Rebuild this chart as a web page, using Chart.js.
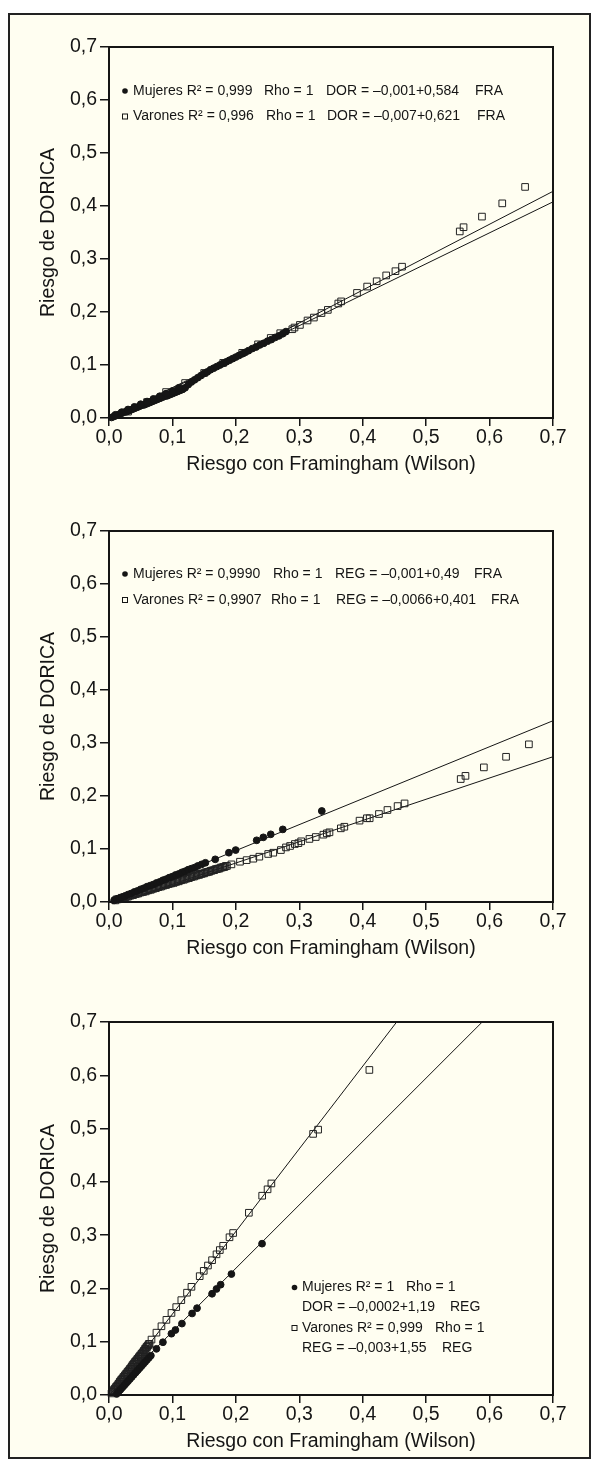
<!DOCTYPE html>
<html>
<head>
<meta charset="utf-8">
<script src="https://cdn.jsdelivr.net/npm/chart.js@4/dist/chart.umd.min.js"></script>
<style>
  html, body { margin: 0; padding: 0; background: #fff; }
  #page { position: relative; width: 598px; height: 1471px; }
  #frame { position: absolute; left: 8px; top: 13px; width: 583px; height: 1446px; box-sizing: border-box;
           border: 2px solid #222; background: #fffef1; }
  canvas { position: absolute; left: 0; }
</style>
</head>
<body>
<div id="page">
  <div id="frame"></div>
  <canvas id="c1" width="598" height="478" style="top:0px"></canvas>
  <canvas id="c2" width="598" height="478" style="top:484px"></canvas>
  <canvas id="c3" width="598" height="480" style="top:975px"></canvas>
</div>
<script>
// axis text
const tickLabels = ["0,0", "0,1", "0,2", "0,3", "0,4", "0,5", "0,6", "0,7"];
const xTitle = "Riesgo con Framingham (Wilson)";
const yTitle = "Riesgo de DORICA";

// Chart 1 (DOR vs FRA)
const c1MujeresX = [0.004,0.008,0.012,0.016,0.020,0.024,0.028,0.032,0.036,0.040,0.044,0.048,0.052,0.056,0.060,0.064,0.068,0.072,0.076,0.080,0.084,0.088,0.092,0.096,0.100,0.104,0.108,0.112,0.116,0.120,
  0.010,0.020,0.030,0.040,0.050,0.060,0.070,0.080,0.090,0.100,0.110,
  0.125,0.130,0.135,0.140,0.145,0.150,0.155,0.160,0.165,0.170,0.175,0.180,0.185,0.190,0.195,0.200,0.205,0.210,0.215,0.220,0.226,0.232,0.238,0.244,0.250,0.256,0.262,0.268,0.274,0.279];
const c1MujeresY = [0.001,0.003,0.005,0.007,0.009,0.011,0.012,0.014,0.016,0.018,0.020,0.022,0.024,0.025,0.027,0.029,0.031,0.033,0.035,0.037,0.039,0.041,0.042,0.044,0.046,0.048,0.050,0.052,0.054,0.057,
  0.006,0.011,0.016,0.021,0.026,0.031,0.036,0.041,0.046,0.051,0.057,
  0.063,0.068,0.072,0.076,0.080,0.084,0.087,0.091,0.094,0.097,0.100,0.103,0.106,0.109,0.112,0.115,0.118,0.121,0.124,0.127,0.131,0.134,0.138,0.141,0.145,0.148,0.152,0.155,0.159,0.163];
const c1VaronesX = [0.030,0.060,0.090,0.120,0.150,0.180,0.210,0.235,0.255,0.270,
  0.289,0.2925,0.301,0.313,0.323,0.335,0.345,0.3615,0.366,0.391,0.407,0.422,0.437,0.4516,0.462,
  0.553,0.559,0.588,0.620,0.656];
const c1VaronesY = [0.012,0.030,0.049,0.066,0.085,0.104,0.123,0.139,0.151,0.160,
  0.1675,0.1707,0.1756,0.184,0.1895,0.198,0.204,0.216,0.220,0.236,0.248,0.258,0.269,0.277,0.2855,
  0.352,0.360,0.380,0.405,0.436];
const c1FitMujeres = [-0.001, 0.584];
const c1FitVarones = [-0.007, 0.621];
const c1Notes = [["Mujeres R² = 0,999", "Rho = 1", "DOR = –0,001+0,584", "FRA"],
                 ["Varones R² = 0,996", "Rho = 1", "DOR = –0,007+0,621", "FRA"]];

// Chart 2 (REG vs FRA)
const c2MujeresX = [0.008,0.012,0.016,0.020,0.025,0.030,0.035,0.040,0.045,0.050,0.055,0.060,0.065,0.070,0.075,0.080,0.085,0.090,0.095,0.100,0.105,0.110,0.115,0.120,0.125,0.130,0.135,0.140,0.146,0.152,
  0.1675,0.189,0.1997,0.2328,0.2433,0.255,0.274,0.3355];
const c2MujeresY = [0.003,0.005,0.007,0.009,0.011,0.014,0.016,0.019,0.021,0.024,0.026,0.029,0.031,0.033,0.036,0.038,0.041,0.043,0.046,0.048,0.051,0.053,0.056,0.058,0.061,0.063,0.065,0.068,0.071,0.074,
  0.0805,0.093,0.098,0.1164,0.122,0.1277,0.137,0.1717];
const c2VaronesX = [0.010,0.014,0.018,0.022,0.026,0.030,0.034,0.038,0.042,0.046,0.050,0.054,0.058,0.062,0.066,0.070,0.074,0.078,0.082,0.086,0.090,0.094,0.098,0.102,0.106,0.110,0.114,0.118,0.122,0.126,0.130,0.134,0.138,0.142,0.146,0.150,0.154,0.158,0.162,0.166,0.170,0.174,0.178,0.182,0.186,
  0.012,0.016,0.020,0.024,0.028,0.032,0.036,0.040,0.044,0.048,0.052,0.056,0.060,0.064,0.068,0.072,0.076,0.080,0.084,0.088,0.092,0.096,0.100,0.104,0.108,0.112,0.116,0.120,0.124,0.128,0.132,0.136,0.140,0.144,0.148,0.152,0.156,0.160,0.164,0.168,0.172,0.176,0.180,0.184,
  0.193,0.2065,0.217,0.2275,0.237,0.251,0.259,0.271,0.279,0.2855,0.293,0.2986,0.303,0.316,0.326,0.338,0.3434,0.3476,0.3655,0.371,0.395,0.4066,0.411,0.4256,0.439,0.455,0.466,0.5545,0.562,0.591,0.626,0.662];
const c2VaronesY = [0.003,0.005,0.006,0.007,0.009,0.010,0.012,0.013,0.015,0.016,0.018,0.019,0.020,0.022,0.023,0.025,0.026,0.028,0.029,0.031,0.032,0.034,0.035,0.036,0.038,0.039,0.041,0.042,0.044,0.045,0.047,0.048,0.050,0.051,0.053,0.054,0.056,0.057,0.059,0.060,0.062,0.063,0.065,0.066,0.068,
  0.005,0.006,0.008,0.009,0.011,0.012,0.014,0.015,0.016,0.018,0.019,0.021,0.022,0.024,0.025,0.027,0.028,0.030,0.031,0.033,0.034,0.035,0.037,0.038,0.040,0.041,0.043,0.044,0.046,0.047,0.049,0.050,0.052,0.053,0.054,0.056,0.057,0.059,0.060,0.062,0.063,0.065,0.066,0.068,
  0.071,0.076,0.079,0.0817,0.0855,0.0906,0.093,0.098,0.103,0.1057,0.1094,0.111,0.1145,0.119,0.1226,0.127,0.1296,0.1315,0.139,0.142,0.1535,0.158,0.158,0.166,0.1736,0.181,0.186,0.232,0.238,0.254,0.274,0.2975];
const c2FitMujeres = [-0.001, 0.49];
const c2FitVarones = [-0.0066, 0.401];
const c2Notes = [["Mujeres R² = 0,9990", "Rho = 1", "REG = –0,001+0,49", "FRA"],
                 ["Varones R² = 0,9907", "Rho = 1", "REG = –0,0066+0,401", "FRA"]];

// Chart 3 (DOR vs REG)
const c3MujeresX = [0.012,0.015,0.018,0.021,0.024,0.027,0.030,0.033,0.036,0.039,0.042,0.045,0.048,0.051,0.054,0.057,0.060,0.063,0.066,
  0.0748,0.085,0.0984,0.1047,0.115,0.131,0.1388,0.1625,0.1695,0.176,0.193,0.2413];
const c3MujeresY = [0.002,0.006,0.010,0.014,0.018,0.022,0.026,0.030,0.034,0.038,0.042,0.046,0.050,0.054,0.058,0.062,0.066,0.070,0.074,
  0.0866,0.099,0.115,0.122,0.134,0.153,0.163,0.190,0.199,0.207,0.227,0.284];
const c3VaronesX = [0.004,0.006,0.008,0.010,0.012,0.014,0.016,0.018,0.020,0.022,0.024,0.026,0.028,0.030,0.032,0.034,0.036,0.038,0.040,0.042,0.044,0.046,0.048,0.050,0.052,0.054,0.056,0.058,0.060,0.062,0.064,
  0.005,0.007,0.009,0.011,0.013,0.015,0.017,0.019,0.021,0.023,0.025,0.027,0.029,0.031,0.033,0.035,0.037,0.039,0.041,0.043,0.045,0.047,0.049,0.051,0.053,0.055,0.057,0.059,0.061,0.063,
  0.067,0.0748,0.0827,0.0905,0.0985,0.106,0.114,0.123,0.130,0.143,0.1494,0.156,0.1625,0.1695,0.1747,0.180,0.190,0.1957,0.2205,0.2415,0.250,0.256,0.3218,0.3297,0.4105];
const c3VaronesY = [0.003,0.006,0.009,0.012,0.015,0.018,0.022,0.025,0.028,0.031,0.034,0.037,0.040,0.043,0.046,0.049,0.053,0.056,0.059,0.062,0.065,0.068,0.071,0.074,0.077,0.080,0.084,0.087,0.090,0.093,0.096,
  0.006,0.009,0.012,0.015,0.018,0.021,0.025,0.028,0.031,0.034,0.037,0.040,0.043,0.046,0.049,0.052,0.056,0.059,0.062,0.065,0.068,0.071,0.074,0.077,0.080,0.083,0.087,0.090,0.093,0.096,
  0.104,0.117,0.129,0.141,0.154,0.165,0.178,0.192,0.203,0.223,0.233,0.243,0.253,0.264,0.272,0.280,0.296,0.304,0.342,0.374,0.386,0.397,0.490,0.498,0.610];
const c3FitMujeres = [-0.0002, 1.19];
const c3FitVarones = [-0.003, 1.55];
const c3Notes = [["Mujeres R² = 1", "Rho = 1"], ["DOR = –0,0002+1,19", "REG"],
                 ["Varones R² = 0,999", "Rho = 1"], ["REG = –0,003+1,55", "REG"]];

const ink = "#151515";
Chart.defaults.font.family = '"Liberation Sans", Arial, Helvetica, sans-serif';
Chart.defaults.color = ink;

function pts(xs, ys) {
  return xs.map((x, i) => ({ x: x, y: ys[i] }));
}
function fitLine(c) {
  return [{ x: 0, y: c[0] }, { x: 0.7, y: c[0] + 0.7 * c[1] }];
}

// equation text block inside the plot
const notesPlugin = {
  id: "notes",
  afterDraw(chart, args, opts) {
    const ctx = chart.ctx;
    ctx.save();
    ctx.fillStyle = ink;
    ctx.strokeStyle = ink;
    ctx.lineWidth = 1;
    ctx.font = '14px "Liberation Sans", Arial, sans-serif';
    ctx.textBaseline = "middle";
    opts.rows.forEach((parts, r) => {
      const y = opts.ys[r];
      const m = opts.markers[r];
      if (m === "dot") {
        ctx.beginPath();
        ctx.arc(opts.markerX, y, 2.8, 0, Math.PI * 2);
        ctx.fill();
      } else if (m === "box") {
        ctx.strokeRect(opts.markerX - 2.5, y - 2.5, 5, 5);
      }
      parts.forEach((t, k) => ctx.fillText(t, opts.cols[r][k], y));
    });
    ctx.restore();
  }
};

// closed frame around the plot area
const boxPlugin = {
  id: "box",
  afterDraw(chart) {
    const a = chart.chartArea;
    const ctx = chart.ctx;
    ctx.save();
    ctx.strokeStyle = ink;
    ctx.lineWidth = 2;
    ctx.strokeRect(a.left, a.top, a.right - a.left, a.bottom - a.top);
    ctx.restore();
  }
};

function axis(isX) {
  return {
    type: "linear",
    min: 0,
    max: 0.7,
    ticks: {
      stepSize: 0.1,
      autoSkip: false,
      maxRotation: 0,
      color: ink,
      font: { size: 19.5 },
      padding: isX ? 0 : 3,
      callback: v => tickLabels[Math.round(v * 10)]
    },
    grid: { drawOnChartArea: false, drawTicks: true, tickLength: isX ? 8 : 9, color: ink, lineWidth: 1.5 },
    border: { display: true, color: ink, width: 2 },
    title: {
      display: true,
      text: isX ? xTitle : yTitle,
      color: ink,
      font: { size: 19.5 },
      padding: isX ? { top: 0, bottom: 2 } : { top: 37, bottom: 0 }
    },
    afterFit: s => { if (isX) s.height = 60; else s.width = 109; }
  };
}

function makeChart(id, mx, my, vx, vy, fitM, fitV, notes) {
  new Chart(document.getElementById(id), {
    type: "scatter",
    data: {
      datasets: [
        {
          label: "Mujeres",
          data: pts(mx, my),
          pointStyle: "circle",
          pointRadius: 3.4,
          backgroundColor: ink,
          borderColor: ink,
          borderWidth: 1,
          clip: false
        },
        {
          label: "Varones",
          data: pts(vx, vy),
          pointStyle: "rect",
          pointRadius: 4.7,
          backgroundColor: "rgba(0,0,0,0)",
          borderColor: "#222",
          borderWidth: 1,
          clip: false
        },
        { data: fitLine(fitM), showLine: true, borderColor: ink, borderWidth: 1, pointRadius: 0, clip: 0 },
        { data: fitLine(fitV), showLine: true, borderColor: ink, borderWidth: 1, pointRadius: 0, clip: 0 }
      ]
    },
    options: {
      responsive: false,
      animation: false,
      devicePixelRatio: 1,
      layout: { padding: { top: 47, right: 45, bottom: 0, left: 0 } },
      scales: { x: axis(true), y: axis(false) },
      plugins: {
        legend: { display: false },
        tooltip: { enabled: false },
        notes: notes
      }
    },
    plugins: [boxPlugin, notesPlugin]
  });
}

makeChart("c1", c1MujeresX, c1MujeresY, c1VaronesX, c1VaronesY, c1FitMujeres, c1FitVarones, {
  rows: c1Notes,
  markers: ["dot", "box"],
  markerX: 125,
  ys: [91, 116.5],
  cols: [[133, 264, 326, 475], [133, 266, 327, 477]]
});

makeChart("c2", c2MujeresX, c2MujeresY, c2VaronesX, c2VaronesY, c2FitMujeres, c2FitVarones, {
  rows: c2Notes,
  markers: ["dot", "box"],
  markerX: 125,
  ys: [90, 116],
  cols: [[133, 273, 335, 474], [133, 271, 336, 491]]
});

makeChart("c3", c3MujeresX, c3MujeresY, c3VaronesX, c3VaronesY, c3FitMujeres, c3FitVarones, {
  rows: c3Notes,
  markers: ["dot", null, "box", null],
  markerX: 294.5,
  ys: [312.5, 332.5, 353, 373.5],
  cols: [[302, 406], [302, 450], [302, 435], [302, 442]]
});
</script>
</body>
</html>
